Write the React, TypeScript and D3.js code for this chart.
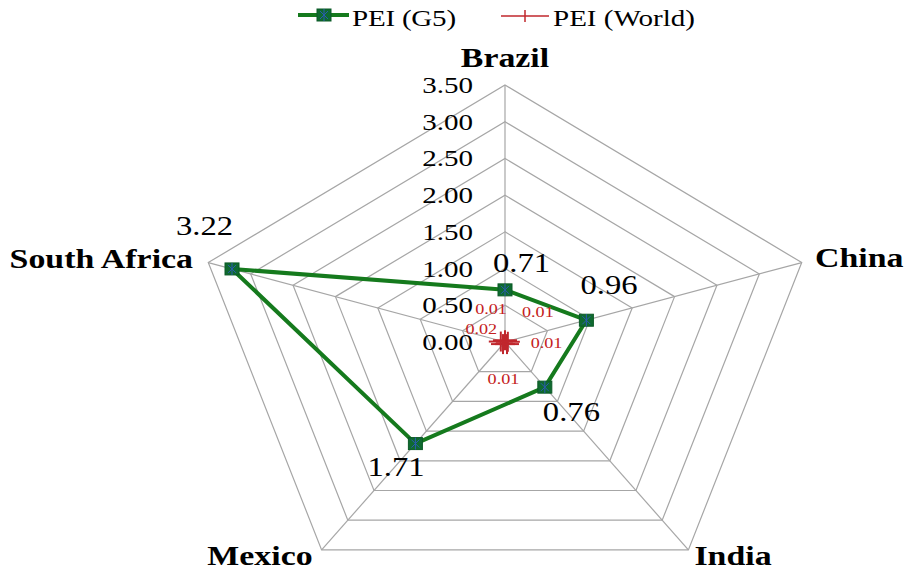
import React from "react";
import * as d3 from "d3";

const categories = ["Brazil", "China", "India", "Mexico", "South Africa"];
const g5Values = [0.71, 0.96, 0.76, 1.71, 3.22];
const worldValues = [0.01, 0.01, 0.01, 0.01, 0.02];
const tickValues = [0, 0.5, 1, 1.5, 2, 2.5, 3, 3.5];
const seriesNames = ["PEI (G5)", "PEI (World)"];

// label placement (layout only)
const catLabelPos = [
  { x: 505, y: 67, anchor: "middle" },
  { x: 815, y: 267, anchor: "start" },
  { x: 733, y: 565, anchor: "middle" },
  { x: 260, y: 565, anchor: "middle" },
  { x: 193, y: 268, anchor: "end" },
];
const g5LabelOffset = [
  [-12, -18],
  [-6, -26],
  [-2, 34],
  [-48, 32],
  [-56, -34],
];
const worldLabelOffset = [
  [-14, -27],
  [32, -25],
  [41, 5],
  [-1, 41],
  [-22, -8],
];

const W = 904;
const H = 571;
const cx = 505;
const cy = 342;
const rx = 312;
const ry = 257;
const SX = 1.21;
const FONT = "'Liberation Serif', 'Times New Roman', serif";

const r = d3.scaleLinear().domain([0, 3.5]).range([0, 1]);
const angle = d3
  .scaleLinear()
  .domain([0, categories.length])
  .range([0, 2 * Math.PI]);

function pt(i: number, v: number): [number, number] {
  const a = angle(i);
  return [cx + r(v) * rx * Math.sin(a), cy - r(v) * ry * Math.cos(a)];
}

const line = d3.line<[number, number]>().curve(d3.curveLinearClosed);

function T(props: {
  x: number;
  y: number;
  size: number;
  anchor?: string;
  bold?: boolean;
  fill?: string;
  len?: number;
  children: React.ReactNode;
}) {
  return (
    <text
      transform={`translate(${props.x},${props.y}) scale(${SX},1)`}
      fontSize={props.size}
      fontFamily={FONT}
      fontWeight={props.bold ? "bold" : "normal"}
      textAnchor={props.anchor || "start"}
      fill={props.fill || "#000"}
      textLength={props.len}
      lengthAdjust={props.len ? "spacing" : undefined}
    >
      {props.children}
    </text>
  );
}

function G5Marker({ x, y }: { x: number; y: number }) {
  const w = 14;
  const h = 12;
  return (
    <g>
      <rect
        x={x - w / 2}
        y={y - h / 2}
        width={w}
        height={h}
        fill="#0f6a30"
        stroke="#0b5a26"
        strokeWidth={1}
      />
      <line x1={x - 4} y1={y - 4} x2={x + 4} y2={y + 4} stroke="#2a5bb0" strokeWidth={1} />
      <line x1={x - 4} y1={y + 4} x2={x + 4} y2={y - 4} stroke="#2a5bb0" strokeWidth={1} />
      <line x1={x} y1={y - 6} x2={x} y2={y + 6} stroke="#2a5bb0" strokeWidth={1} />
    </g>
  );
}

function PlusMarker({ x, y, hw, hh }: { x: number; y: number; hw: number; hh: number }) {
  return (
    <g stroke="#c0272d" strokeWidth={2}>
      <line x1={x - hw} y1={y} x2={x + hw} y2={y} />
      <line x1={x} y1={y - hh} x2={x} y2={y + hh} />
    </g>
  );
}

export default function App() {
  const rings = tickValues.filter((t) => t > 0);
  const g5Pts = g5Values.map((v, i) => pt(i, v));
  const worldPts = worldValues.map((v, i) => pt(i, v));
  const green = "#157a1d";
  return (
    <svg
      width={W}
      height={H}
      style={{ position: "absolute", left: 0, top: 0, background: "#fff" }}
    >
      {/* grid rings */}
      {rings.map((t) => (
        <path
          key={t}
          d={line(categories.map((_, i) => pt(i, t))) || ""}
          fill="none"
          stroke="#a6a6a6"
          strokeWidth={1.2}
        />
      ))}
      {/* spokes */}
      {categories.map((c, i) => {
        const [x, y] = pt(i, 3.5);
        return (
          <line key={c} x1={cx} y1={cy} x2={x} y2={y} stroke="#a6a6a6" strokeWidth={1.2} />
        );
      })}
      {/* tick labels */}
      {tickValues.map((t) => (
        <T key={t} x={cx - 32} y={pt(0, t)[1] + 8} size={24} anchor="end">
          {d3.format(".2f")(t)}
        </T>
      ))}
      {/* category labels */}
      {categories.map((c, i) => (
        <T
          key={c}
          x={catLabelPos[i].x}
          y={catLabelPos[i].y}
          size={28}
          bold
          anchor={catLabelPos[i].anchor}
        >
          {c}
        </T>
      ))}
      {/* World series */}
      <path d={line(worldPts) || ""} fill="none" stroke="#c0272d" strokeWidth={1.5} />
      {worldPts.map(([x, y], i) => (
        <PlusMarker
          key={i}
          x={x + [0, 2, 1.5, -1.5, -2.5][i]}
          y={y + [-1, 0, 1.5, 1.5, 0][i]}
          hw={12}
          hh={10}
        />
      ))}
      {/* G5 series */}
      <path
        d={line(g5Pts) || ""}
        fill="none"
        stroke={green}
        strokeWidth={4}
        strokeLinejoin="round"
      />
      {g5Pts.map(([x, y], i) => (
        <G5Marker key={i} x={x} y={y} />
      ))}
      {/* G5 data labels */}
      {g5Pts.map(([x, y], i) => (
        <T key={i} x={x + g5LabelOffset[i][0]} y={y + g5LabelOffset[i][1]} size={27}>
          {d3.format(".2f")(g5Values[i])}
        </T>
      ))}
      {/* World data labels */}
      {worldPts.map(([x, y], i) => (
        <T
          key={i}
          x={x + worldLabelOffset[i][0]}
          y={y + worldLabelOffset[i][1]}
          size={15}
          anchor="middle"
          fill="#c42020"
        >
          {d3.format(".2f")(worldValues[i])}
        </T>
      ))}
      {/* legend */}
      <line x1={298} y1={15} x2={349} y2={15} stroke={green} strokeWidth={4} />
      <G5Marker x={324} y={15} />
      <T x={352} y={26} size={24} len={86}>
        {seriesNames[0]}
      </T>
      <line x1={501} y1={16} x2={549} y2={16} stroke="#c0272d" strokeWidth={1.5} />
      <line x1={525} y1={10} x2={525} y2={22} stroke="#c0272d" strokeWidth={1.5} />
      <T x={553} y={26} size={24}>
        {seriesNames[1]}
      </T>
    </svg>
  );
}
